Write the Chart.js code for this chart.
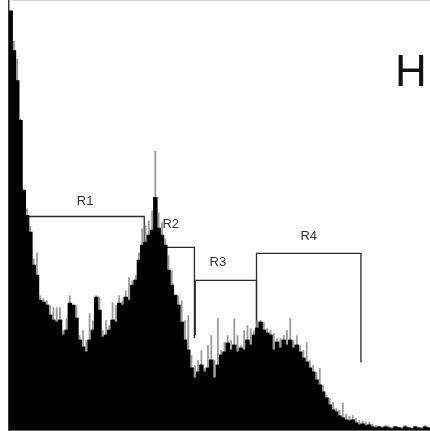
<!DOCTYPE html>
<html>
<head>
<meta charset="utf-8">
<script src="https://cdn.jsdelivr.net/npm/chart.js@4/dist/chart.umd.min.js"></script>
<style>
  html, body { margin: 0; padding: 0; background: #fff; }
  #wrap { position: relative; width: 430px; height: 431px; }
  #wrap::before { content: ''; position: absolute; left: 12px; right: 0; top: 0; border-top: 1px solid #d4d4d4; }
</style>
</head>
<body>
<div id="wrap"><canvas id="histo" width="430" height="431"></canvas></div>
<script>
// 128 bins over 1024 channels (8 channels per bin)
const channels = Array.from({ length: 128 }, (_, i) => i * 8);

// solid body of each bin
const bodyCounts = [
  420, 380, 350, 310, 240, 215, 198, 165, 155, 130,
  128, 125, 115, 110, 108, 110, 95, 100, 127, 125,
  112, 90, 83, 78, 90, 100, 133, 120, 93, 95,
  100, 110, 108, 127, 125, 133, 130, 145, 150, 170,
  185, 188, 195, 200, 233, 202, 195, 185, 160, 145,
  135, 125, 108, 90, 80, 62, 52, 58, 65, 58,
  62, 70, 52, 65, 75, 78, 87, 80, 85, 78,
  82, 80, 90, 85, 95, 102, 108, 100, 97, 95,
  80, 88, 82, 90, 85, 90, 82, 85, 78, 72,
  68, 62, 58, 50, 45, 38, 32, 25, 20, 18,
  14, 12, 10, 9, 10, 7, 5, 6, 4, 5,
  3, 2, 3, 2, 3, 2, 1, 3, 2, 1,
  3, 2, 1, 3, 2, 1, 3, 2,
];

// peak (grey spikes) of each bin
const peakCounts = [
  420, 390, 372, 312, 242, 222, 205, 172, 178, 135,
  132, 130, 125, 123, 123, 123, 100, 112, 135, 125,
  125, 95, 100, 90, 117, 110, 135, 133, 100, 110,
  105, 128, 125, 135, 130, 140, 153, 150, 155, 178,
  202, 205, 210, 220, 280, 218, 208, 192, 175, 160,
  135, 135, 130, 110, 115, 75, 65, 70, 80, 62,
  85, 95, 70, 112, 80, 88, 95, 90, 112, 95,
  85, 100, 105, 102, 100, 110, 110, 108, 102, 100,
  97, 92, 92, 95, 100, 112, 90, 95, 85, 80,
  88, 70, 65, 58, 62, 45, 35, 32, 28, 22,
  20, 27, 16, 14, 15, 12, 10, 9, 8, 8,
  6, 5, 4, 3, 5, 4, 3, 4, 3, 3,
  5, 3, 2, 4, 3, 3, 5, 3,
];

// region markers (channels / counts)
const gateNames = ['R1', 'R2', 'R3', 'R4'];
const gateStart = [41, 336, 453, 602];
const gateEnd = [329, 451, 602, 856];
const gateLevel = [214, 183, 150, 177];
const gateDrop = [130, 92, 95, 68];

// markers sit under the histogram (higher order = drawn earlier)
const gateDatasets = gateNames.map((name, i) => ({
  type: 'line',
  label: name,
  xAxisID: 'xr',
  order: 5,
  data: [
    { x: gateStart[i], y: gateDrop[i] },
    { x: gateStart[i], y: gateLevel[i] },
    { x: gateEnd[i], y: gateLevel[i] },
    { x: gateEnd[i], y: gateDrop[i] },
  ],
  borderColor: '#2a2a2a',
  borderWidth: 1.3,
  pointRadius: 0,
  tension: 0,
  fill: false,
}));

// label offsets above each marker line (px)
const labelShift = [
  { dx: 0, dy: 15 },
  { dx: 0, dy: 23 },
  { dx: -8, dy: 18 },
  { dx: 0, dy: 17 },
];

const gateLabels = {
  id: 'gateLabels',
  afterDatasetsDraw(chart) {
    const { ctx, scales } = chart;
    ctx.save();
    ctx.fillStyle = '#333';
    ctx.font = '13px "Liberation Sans", Arial, sans-serif';
    ctx.textAlign = 'center';
    ctx.textBaseline = 'middle';
    gateNames.forEach((name, i) => {
      const x = scales.xr.getPixelForValue((gateStart[i] + gateEnd[i]) / 2) + labelShift[i].dx;
      const y = scales.y.getPixelForValue(gateLevel[i]) - labelShift[i].dy;
      ctx.fillText(name, x, y);
    });
    // panel letter
    ctx.fillStyle = '#111';
    ctx.font = '44px "Liberation Sans", Arial, sans-serif';
    ctx.fillText('H', 411, 74);
    ctx.restore();
  },
};

new Chart(document.getElementById('histo'), {
  type: 'bar',
  data: {
    labels: channels,
    datasets: [
      ...gateDatasets,
      {
        label: 'body',
        data: bodyCounts,
        order: 1,
        backgroundColor: '#000',
        borderWidth: 0,
        barPercentage: 1,
        categoryPercentage: 1,
        grouped: false,
        inflateAmount: 0.6,
      },
      {
        label: 'peak',
        data: peakCounts,
        order: 2,
        backgroundColor: '#9a9a9a',
        borderWidth: 0,
        barPercentage: 0.55,
        categoryPercentage: 1,
        grouped: false,
        inflateAmount: 0,
      },
    ],
  },
  options: {
    responsive: false,
    animation: false,
    devicePixelRatio: 1,
    layout: { padding: { left: 9, right: 0, top: 1, bottom: 1 } },
    plugins: {
      legend: { display: false },
      tooltip: { enabled: false },
    },
    scales: {
      x: {
        ticks: { display: false },
        grid: { display: false, drawTicks: false },
        border: { display: true, color: '#666', width: 1 },
      },
      xr: {
        type: 'linear',
        display: false,
        offset: false,
        min: 0,
        max: 1024,
      },
      y: {
        min: 0,
        max: 430,
        ticks: { display: false },
        grid: { display: false, drawTicks: false },
        border: { display: true, color: '#3a3a3a', width: 1.5 },
      },
    },
  },
  plugins: [gateLabels],
});
</script>
</body>
</html>
